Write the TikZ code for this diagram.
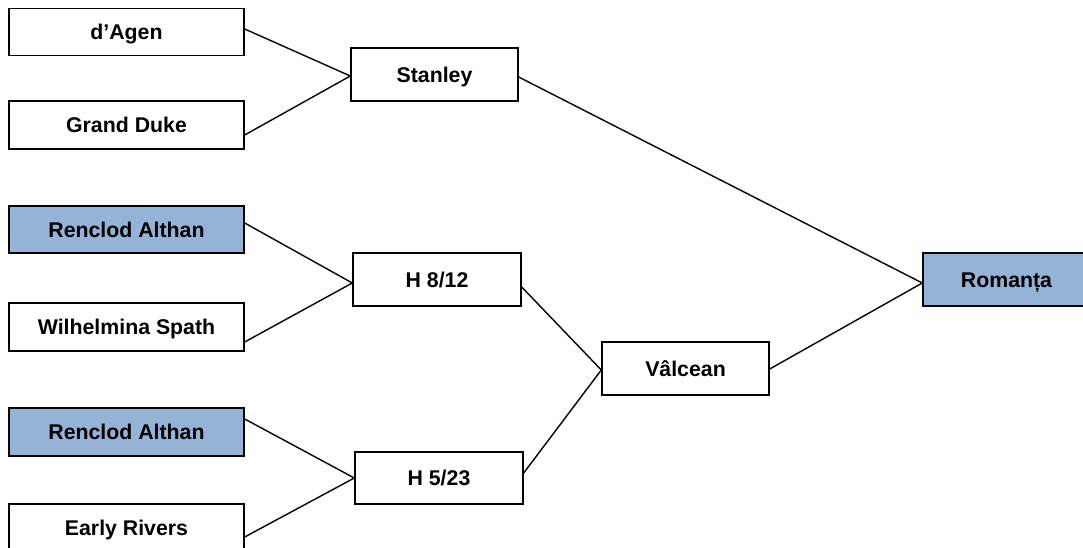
\documentclass[tikz,border=0pt]{standalone}
\usepackage{fontspec}
\setmainfont{Liberation Sans}
\usetikzlibrary{calc}
\definecolor{boxblue}{RGB}{149,179,215}
\tikzset{
  box/.style={draw=black, line width=1.4pt, fill=white, minimum height=47pt,
    inner sep=0pt, font=\fontsize{21.3}{25}\selectfont\bfseries,
    text height=15.5pt, text depth=0pt},
  leftbox/.style={box, minimum width=235pt},
  midbox/.style={box, minimum width=167pt, minimum height=53pt},
  hl/.style={fill=boxblue},
  link/.style={draw=black, line width=1.4pt}
}
\begin{document}
\begin{tikzpicture}[x=1pt,y=-1pt]
\useasboundingbox (0,0) rectangle (1083,548);
\clip (0,0) rectangle (1083,548);
% left column
\node[leftbox] (dagen) at (126.5,32) {d’Agen};
\node[leftbox, minimum height=48pt] (grand) at (126.5,125) {Grand Duke};
\node[leftbox, hl] (ren1) at (126.5,229.5) {Renclod Althan};
\node[leftbox, minimum height=48pt] (wil) at (126.5,327) {Wilhelmina Spath};
\node[leftbox, hl, minimum height=48pt] (ren2) at (126.5,432) {Renclod Althan};
\node[leftbox, minimum height=48pt] (early) at (126.5,528) {Early Rivers};
% middle column
\node[midbox] (stanley) at (434.5,74.5) {Stanley};
\node[midbox, minimum width=168pt] (h812) at (437,279.5) {H 8/12};
\node[midbox, minimum width=168pt, minimum height=52pt] (h523) at (439,478) {H 5/23};
\node[midbox] (valcean) at (685.5,368.5) {Vâlcean};
\node[midbox, hl] (romanta) at (1006.5,279.5) {Romanța};
% connectors
\draw[link] ($(dagen.east)+(0,-3)$) -- ($(stanley.west)+(0,1.5)$);
\draw[link] ($(grand.east)+(0,10)$) -- ($(stanley.west)+(0,1.5)$);
\draw[link] ($(ren1.east)+(0,-6.5)$) -- ($(h812.west)+(0,3.5)$);
\draw[link] ($(wil.east)+(0,15)$) -- ($(h812.west)+(0,3.5)$);
\draw[link] ($(ren2.east)+(0,-13)$) -- (h523.west);
\draw[link] ($(early.east)+(0,9)$) -- (h523.west);
\draw[link] ($(stanley.east)+(0,2.5)$) -- ($(romanta.west)+(0,3.5)$);
\draw[link] ($(h812.east)+(0,7.5)$) -- ($(valcean.west)+(0,1.5)$);
\draw[link] ($(h523.east)+(0,-5)$) -- ($(valcean.west)+(0,1.5)$);
\draw[link] ($(valcean.east)+(0,0.5)$) -- ($(romanta.west)+(0,3.5)$);
\end{tikzpicture}
\end{document}
